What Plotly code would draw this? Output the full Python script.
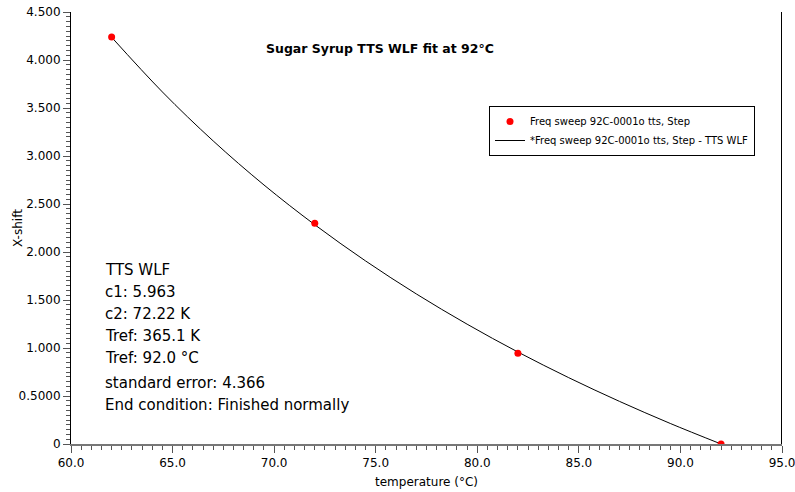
import plotly.graph_objects as go

# measured data
temps = [62.0, 72.0, 82.0, 92.0]
xshift = [4.24, 2.30, 0.945, 0.0]

# fitted WLF curve
curve_t = [62.0, 64.5, 67.0, 69.5, 72.0, 74.5, 77.0, 79.5, 82.0, 84.5, 87.0, 89.5, 92.0]
curve_y = [4.237, 3.667, 3.157, 2.698, 2.284, 1.907, 1.563, 1.248, 0.958, 0.691, 0.444, 0.214, 0.0]

x_ticks = [60, 65, 70, 75, 80, 85, 90, 95]
x_ticklabels = ["60.0", "65.0", "70.0", "75.0", "80.0", "85.0", "90.0", "95.0"]
y_ticks = [0, 0.5, 1.0, 1.5, 2.0, 2.5, 3.0, 3.5, 4.0, 4.5]
y_ticklabels = ["0", "0.5000", "1.000", "1.500", "2.000", "2.500", "3.000", "3.500", "4.000", "4.500"]

info_lines = ["TTS WLF", "c1: 5.963", "c2: 72.22 K", "Tref: 365.1 K", "Tref: 92.0 °C",
              "standard error: 4.366", "End condition: Finished normally"]

FONT = "DejaVu Sans"
W, H = 795, 492
ml, mr, mt, mb = 71, 13, 12, 48
pw = W - ml - mr
ph = H - mt - mb

fig = go.Figure()
fig.add_trace(go.Scatter(x=curve_t, y=curve_y, mode="lines",
                         line=dict(color="black", width=1, shape="spline"),
                         name="*Freq sweep 92C-0001o tts, Step - TTS WLF", legendrank=2))
fig.add_trace(go.Scatter(x=temps, y=xshift, mode="markers",
                         marker=dict(color="#ff0000", size=7, line=dict(width=0)),
                         name="Freq sweep 92C-0001o tts, Step", legendrank=1))

annotations = [dict(text="<b>Sugar Syrup TTS WLF fit at 92°C</b>", xref="paper", yref="paper",
                    x=(380 - ml) / pw, y=(H - mb - 48) / ph, xanchor="center", yanchor="middle",
                    showarrow=False, font=dict(family=FONT, size=12.5, color="black")),
               dict(text="X-shift", xref="paper", yref="paper", textangle=-90,
                    x=(18 - ml) / pw, y=(H - mb - 228) / ph, xanchor="center", yanchor="middle",
                    showarrow=False, font=dict(family=FONT, size=12, color="black"))]
for i, line in enumerate(info_lines):
    ypix = 270 + 22 * i + (3 if i >= 5 else 0)
    annotations.append(dict(text=line, xref="paper", yref="paper",
                            x=(103 - ml) / pw, y=(H - mb - ypix) / ph,
                            xanchor="left", yanchor="middle", showarrow=False,
                            font=dict(family=FONT, size=15, color="black")))

fig.update_layout(
    width=W, height=H, margin=dict(l=ml, r=mr, t=mt, b=mb, autoexpand=False),
    paper_bgcolor="white", plot_bgcolor="white",
    font=dict(family=FONT, size=12, color="black"),
    showlegend=True,
    legend=dict(x=(622 - ml) / pw, y=(H - mb - 131) / ph, xanchor="center", yanchor="middle",
                bordercolor="black", borderwidth=1, bgcolor="white",
                font=dict(family=FONT, size=10, color="black"),
                itemwidth=30, tracegroupgap=0, traceorder="normal"),
    xaxis=dict(range=[60, 95], tickvals=x_ticks, ticktext=x_ticklabels, automargin=False,
               ticklabeloverflow="allow",
               showgrid=False, zeroline=False, showline=True, linecolor="#777777", linewidth=2,
               ticks="outside", ticklen=7, tickcolor="#555555", tickwidth=1,
               minor=dict(dtick=0.5, ticks="outside", ticklen=4, tickcolor="#555555", showgrid=False),
               title=dict(text="temperature (°C)", font=dict(size=12), standoff=8),
               tickfont=dict(size=12)),
    yaxis=dict(range=[0, 4.5], tickvals=y_ticks, ticktext=y_ticklabels, automargin=False,
               ticklabeloverflow="allow",
               showgrid=False, zeroline=False, showline=True, linecolor="black", linewidth=1,
               ticks="outside", ticklen=7, tickcolor="#555555", tickwidth=1,
               minor=dict(dtick=0.05, ticks="outside", ticklen=4, tickcolor="#555555", showgrid=False),
               tickfont=dict(size=12)),
    annotations=annotations,
    shapes=[dict(type="line", xref="x", yref="paper", x0=95, x1=95, y0=0, y1=1,
                 line=dict(color="black", width=2))],
)

fig.write_html("out.html")
